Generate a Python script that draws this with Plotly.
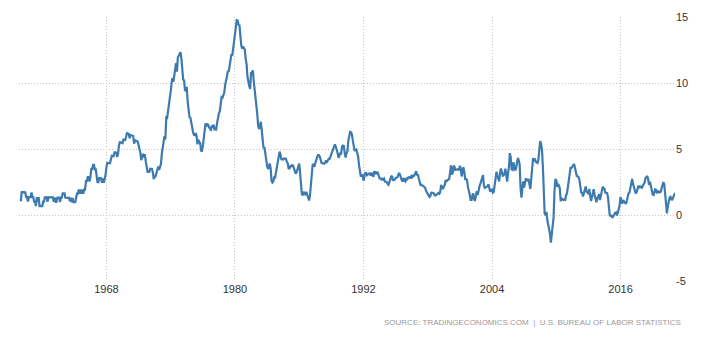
import pandas as pd
import plotly.graph_objects as go

# US CPI inflation rate, year-on-year %, monthly, Jan 1960 - Feb 2021
start_month = "1960-01-01"
cpi_1960s = [
    1.03, 1.73, 1.73, 1.72, 1.72, 1.72, 1.37, 1.37, 1.02, 1.36, 1.36, 1.36,
    1.71, 1.36, 1.36, 1.02, 1.02, 0.68, 1.35, 1.01, 1.35, 0.67, 0.67, 0.67,
    0.67, 1.01, 1.01, 1.34, 1.34, 1.34, 1.00, 1.34, 1.33, 1.33, 1.33, 1.33,
    1.33, 1.00, 1.33, 0.99, 0.99, 1.32, 1.32, 1.32, 0.99, 1.32, 1.32, 1.64,
    1.64, 1.64, 1.31, 1.31, 1.31, 1.31, 1.30, 1.04, 1.30, 0.97, 1.29, 0.97,
    0.97, 0.97, 1.29, 1.62, 1.62, 1.94, 1.61, 1.94, 1.61, 1.93, 1.61, 1.92,
    1.92, 2.56, 2.56, 2.87, 2.87, 2.53, 2.85, 3.48, 3.48, 3.79, 3.79, 3.46,
    3.46, 2.81, 2.49, 2.49, 2.80, 2.79, 2.78, 2.45, 2.76, 2.44, 2.74, 3.04,
    3.65, 3.95, 3.94, 3.93, 3.92, 4.20, 4.49, 4.48, 4.46, 4.75, 4.73, 4.72,
    4.40, 4.68, 5.25, 5.52, 5.51, 5.48, 5.44, 5.71, 5.70, 5.68, 5.93, 6.20,
]
cpi_1970s = [
    6.18, 6.15, 5.82, 6.06, 6.04, 6.01, 5.98, 5.41, 5.66, 5.63, 5.60, 5.57,
    5.29, 5.00, 4.71, 4.16, 4.40, 4.64, 4.36, 4.62, 4.08, 3.80, 3.28, 3.27,
    3.27, 3.51, 3.50, 3.49, 3.23, 2.71, 2.95, 2.94, 3.19, 3.42, 3.67, 3.41,
    3.65, 3.87, 4.59, 5.06, 5.53, 5.98, 5.73, 7.38, 7.36, 7.80, 8.25, 8.71,
    9.39, 10.02, 10.39, 10.09, 10.71, 10.86, 11.51, 10.86, 11.95, 12.06, 12.20, 12.34,
    11.80, 11.23, 10.25, 10.21, 9.47, 9.39, 9.72, 8.60, 7.91, 7.44, 7.38, 6.94,
    6.72, 6.29, 6.07, 6.05, 6.20, 5.97, 5.35, 5.71, 5.49, 5.46, 4.88, 4.86,
    5.22, 5.91, 6.44, 6.95, 6.73, 6.87, 6.83, 6.62, 6.60, 6.39, 6.72, 6.70,
    6.84, 6.43, 6.55, 6.50, 6.97, 7.41, 7.70, 7.84, 8.31, 8.93, 8.89, 9.03,
    9.28, 9.86, 10.09, 10.49, 10.85, 10.89, 11.26, 11.82, 12.18, 12.07, 12.61, 13.29,
]
cpi_1980s = [
    13.91, 14.18, 14.76, 14.73, 14.41, 14.38, 13.13, 12.87, 12.60, 12.77, 12.65, 12.52,
    11.83, 11.41, 10.49, 10.00, 9.78, 9.55, 10.76, 10.80, 10.95, 10.14, 9.59, 8.92,
    8.39, 7.62, 6.78, 6.51, 6.68, 7.06, 6.44, 5.85, 5.04, 5.14, 4.59, 3.83,
    3.71, 3.49, 3.60, 3.90, 3.55, 2.58, 2.46, 2.56, 2.86, 2.85, 3.27, 3.79,
    4.19, 4.60, 4.80, 4.56, 4.23, 4.22, 4.20, 4.29, 4.27, 4.26, 4.05, 3.95,
    3.53, 3.52, 3.70, 3.69, 3.77, 3.76, 3.55, 3.35, 3.14, 3.23, 3.51, 3.80,
    3.89, 3.11, 2.26, 1.59, 1.49, 1.77, 1.58, 1.57, 1.75, 1.47, 1.28, 1.10,
    1.46, 2.10, 3.03, 3.78, 3.86, 3.65, 3.93, 4.28, 4.36, 4.53, 4.53, 4.43,
    4.05, 3.94, 3.93, 3.90, 3.89, 3.96, 4.13, 4.02, 4.17, 4.25, 4.25, 4.42,
    4.67, 4.83, 4.98, 5.11, 5.36, 5.17, 4.98, 4.71, 4.34, 4.49, 4.66, 4.65,
]
cpi_1990s = [
    5.20, 5.26, 5.23, 4.71, 4.36, 4.67, 4.82, 5.62, 6.16, 6.29, 6.27, 6.11,
    5.65, 5.31, 4.90, 4.89, 4.95, 4.70, 4.45, 3.80, 3.39, 2.92, 2.99, 3.06,
    2.60, 2.82, 3.19, 3.18, 3.02, 3.09, 3.16, 3.15, 2.99, 3.20, 3.05, 2.90,
    3.26, 3.25, 3.09, 3.23, 3.22, 3.00, 2.78, 2.77, 2.69, 2.75, 2.68, 2.75,
    2.52, 2.52, 2.51, 2.36, 2.29, 2.49, 2.77, 2.90, 2.96, 2.61, 2.67, 2.67,
    2.80, 2.86, 2.85, 3.05, 3.19, 3.04, 2.76, 2.62, 2.54, 2.81, 2.61, 2.54,
    2.73, 2.65, 2.84, 2.90, 2.89, 2.75, 2.95, 2.88, 3.00, 2.99, 3.26, 3.32,
    3.04, 3.03, 2.76, 2.50, 2.23, 2.30, 2.23, 2.23, 2.15, 2.08, 1.83, 1.70,
    1.57, 1.44, 1.37, 1.44, 1.69, 1.68, 1.68, 1.62, 1.49, 1.49, 1.55, 1.61,
    1.67, 1.61, 1.73, 2.28, 2.09, 1.96, 2.14, 2.26, 2.63, 2.56, 2.62, 2.68,
]
cpi_2000s = [
    2.74, 3.22, 3.76, 3.07, 3.19, 3.73, 3.66, 3.41, 3.45, 3.45, 3.45, 3.39,
    3.73, 3.53, 2.92, 3.27, 3.62, 3.25, 2.72, 2.72, 2.65, 2.13, 1.90, 1.55,
    1.14, 1.14, 1.48, 1.64, 1.18, 1.07, 1.46, 1.80, 1.51, 2.03, 2.20, 2.38,
    2.60, 2.98, 3.02, 2.22, 2.06, 2.11, 2.11, 2.16, 2.32, 2.04, 1.77, 1.88,
    1.93, 1.69, 1.74, 2.29, 3.05, 3.27, 2.99, 2.65, 2.54, 3.19, 3.52, 3.26,
    2.97, 3.01, 3.15, 3.51, 2.80, 2.53, 3.17, 3.64, 4.69, 4.35, 3.46, 3.42,
    3.99, 3.60, 3.36, 3.55, 4.17, 4.32, 4.15, 3.82, 2.06, 1.31, 1.97, 2.54,
    2.08, 2.42, 2.78, 2.57, 2.69, 2.69, 2.36, 1.97, 2.76, 3.54, 4.31, 4.08,
    4.28, 4.03, 3.98, 3.94, 4.18, 5.02, 5.60, 5.37, 4.94, 3.66, 1.07, 0.09,
    0.03, 0.24, -0.38, -0.74, -1.28, -1.43, -2.10, -1.48, -1.29, -0.18, 1.84, 2.72,
]
cpi_2010s = [
    2.63, 2.14, 2.31, 2.24, 2.02, 1.05, 1.24, 1.15, 1.14, 1.17, 1.14, 1.50,
    1.63, 2.11, 2.68, 3.16, 3.57, 3.56, 3.63, 3.77, 3.87, 3.53, 3.39, 2.96,
    2.93, 2.87, 2.65, 2.30, 1.70, 1.66, 1.41, 1.69, 1.99, 2.16, 1.76, 1.74,
    1.59, 1.98, 1.47, 1.06, 1.36, 1.75, 1.96, 1.52, 1.18, 0.96, 1.24, 1.50,
    1.58, 1.13, 1.51, 1.95, 2.13, 2.07, 1.99, 1.70, 1.66, 1.66, 1.32, 0.76,
    -0.09, -0.03, -0.07, -0.20, -0.04, 0.12, 0.17, 0.20, -0.04, 0.17, 0.50, 0.73,
    1.37, 1.02, 0.85, 1.13, 1.02, 1.01, 0.84, 1.06, 1.46, 1.64, 1.69, 2.07,
    2.50, 2.74, 2.38, 2.20, 1.87, 1.63, 1.73, 1.94, 2.23, 2.04, 2.20, 2.11,
    2.07, 2.21, 2.36, 2.46, 2.80, 2.87, 2.95, 2.70, 2.28, 2.52, 2.18, 1.91,
    1.55, 1.52, 1.86, 2.00, 1.79, 1.65, 1.81, 1.75, 1.71, 1.76, 2.05, 2.29,
]
cpi_2020s = [
    2.49, 2.33, 1.54, 0.33, 0.12, 0.65, 0.99, 1.31, 1.37, 1.18, 1.17, 1.36,
    1.40, 1.68,
]

values = cpi_1960s + cpi_1970s + cpi_1980s + cpi_1990s + cpi_2000s + cpi_2010s + cpi_2020s
dates = pd.date_range(start_month, periods=len(values), freq="MS")

y_ticks = [-5, 0, 5, 10, 15]
x_tick_years = [1968, 1980, 1992, 2004, 2016]
source_text = "SOURCE: TRADINGECONOMICS.COM  |  U.S. BUREAU OF LABOR STATISTICS"

fig = go.Figure()
fig.add_trace(go.Scatter(
    x=dates, y=values, mode="lines",
    line=dict(color="#3c7ab0", width=2.2),
    hoverinfo="x+y",
))

grid = dict(showgrid=True, gridcolor="#c4c4c4", gridwidth=1, griddash="1px,2px",
            zeroline=False, showline=False, ticks="")

fig.update_layout(
    width=715, height=337,
    margin=dict(l=19, r=40, t=17, b=56),
    paper_bgcolor="white", plot_bgcolor="white",
    showlegend=False,
    font=dict(family="Arial, Liberation Sans, sans-serif", size=11, color="#333333"),
    xaxis=dict(
        type="date",
        range=["1959-11-01", "2021-02-01"],
        tickvals=[f"{y}-01-01" for y in x_tick_years],
        ticktext=[str(y) for y in x_tick_years],
        tickfont=dict(size=11, color="#333333"),
        **grid,
    ),
    yaxis=dict(
        range=[-5, 15],
        side="right",
        tickvals=y_ticks,
        ticktext=[str(v) for v in y_ticks],
        tickfont=dict(size=11, color="#333333"),
        **grid,
    ),
    annotations=[dict(
        text=source_text, xref="paper", yref="paper",
        x=1.0 + 8 / 656, y=0, xanchor="right", yanchor="top",
        yshift=-35, showarrow=False,
        font=dict(size=8, color="#9a9a9a", family="Arial, Liberation Sans, sans-serif"),
    )],
)

fig.write_html("out.html")
